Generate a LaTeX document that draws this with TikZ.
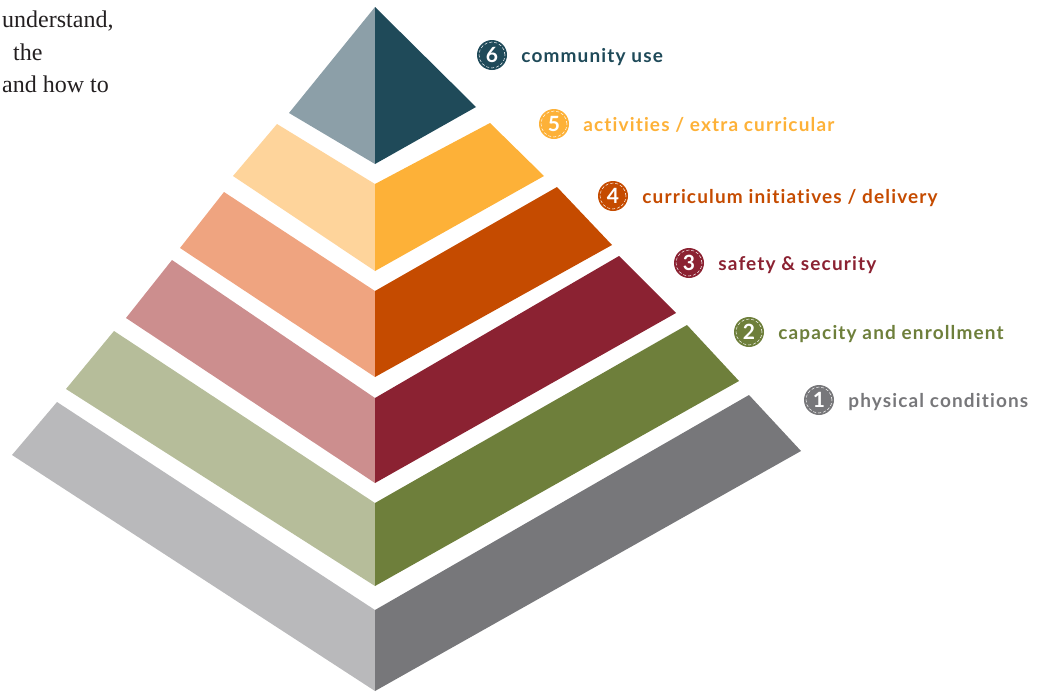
\documentclass[tikz,border=0pt]{standalone}
\usepackage{fontspec}
\setmainfont{Liberation Serif}
\newfontfamily\labelfont[LetterSpace=6,Ligatures=CommonOff]{Lato}
\newfontfamily\numfont{Lato}
\usepackage{tikz}
\usetikzlibrary{positioning}
\definecolor{sixL}{HTML}{8C9FA8}
\definecolor{sixR}{HTML}{1F4A59}
\definecolor{fiveL}{HTML}{FED49B}
\definecolor{fiveR}{HTML}{FDB138}
\definecolor{fourL}{HTML}{EFA480}
\definecolor{fourR}{HTML}{C54B00}
\definecolor{threeL}{HTML}{CC8E8E}
\definecolor{threeR}{HTML}{8B2232}
\definecolor{twoL}{HTML}{B6BD9A}
\definecolor{twoR}{HTML}{6E7F3B}
\definecolor{oneL}{HTML}{B9B9BB}
\definecolor{oneR}{HTML}{77777A}
\definecolor{bodytext}{HTML}{231F20}
\tikzset{
  numdot/.style={circle, fill=#1, minimum size=30pt, inner sep=0pt, text=white,
    font=\numfont\bfseries\fontsize{21}{21}\selectfont,
    path picture={\draw[white, densely dashed, line width=0.5pt]
      (path picture bounding box.center) circle (13pt);}},
  lbl/.style={text=#1, inner sep=0pt, text height=14pt, text depth=0pt,
    font=\labelfont\bfseries\fontsize{19}{19}\selectfont},
  serif/.style={text=bodytext, inner sep=0pt, anchor=base west,
    font=\fontsize{24}{24}\selectfont}
}
\begin{document}
\begin{tikzpicture}[x=1pt,y=-1pt]
\useasboundingbox (0,0) rectangle (1039,691);
\node[serif] (txa) at (2,27) {understand,};
\node[serif] (txb) at (13,60) {the};
\node[serif] (txc) at (2,92) {and how to};
% pyramid
\fill[sixL] (375,7) -- (289,113) -- (375,164) -- cycle;
\fill[sixR] (375,7) -- (476,107) -- (375,164) -- cycle;
\fill[fiveL] (277,124) -- (233,176) -- (375,271) -- (375,184) -- cycle;
\fill[fiveR] (375,184) -- (490,123) -- (544,176) -- (375,271) -- cycle;
\fill[fourL] (224,192) -- (180,248) -- (375,377) -- (375,291) -- cycle;
\fill[fourR] (375,291) -- (557,187) -- (612,245) -- (375,377) -- cycle;
\fill[threeL] (172,260) -- (126,318) -- (375,483) -- (375,398) -- cycle;
\fill[threeR] (375,398) -- (619,256) -- (676,313) -- (375,483) -- cycle;
\fill[twoL] (114,331) -- (66,389) -- (375,586) -- (375,503) -- cycle;
\fill[twoR] (375,503) -- (687,325) -- (739,381) -- (375,586) -- cycle;
\fill[oneL] (57,402) -- (12,455) -- (375,691) -- (375,610) -- cycle;
\fill[oneR] (375,610) -- (749,395) -- (801,451) -- (375,691) -- cycle;
% labels
\foreach \n/\x/\y/\c/\t in {6/492/55/sixR/{community use},
    5/554/124/fiveR/{activities / extra curricular},
    4/613/196/fourR/{curriculum initiatives / delivery},
    3/689/263/threeR/{safety \& security},
    2/749/332/twoR/{capacity and enrollment},
    1/819/400/oneR/{physical conditions}}{
  \node[numdot=\c] (n\n) at (\x,\y) {\n};
  \node[lbl=\c, right=14pt of n\n] (t\n) {\t};
}
\end{tikzpicture}
\end{document}
